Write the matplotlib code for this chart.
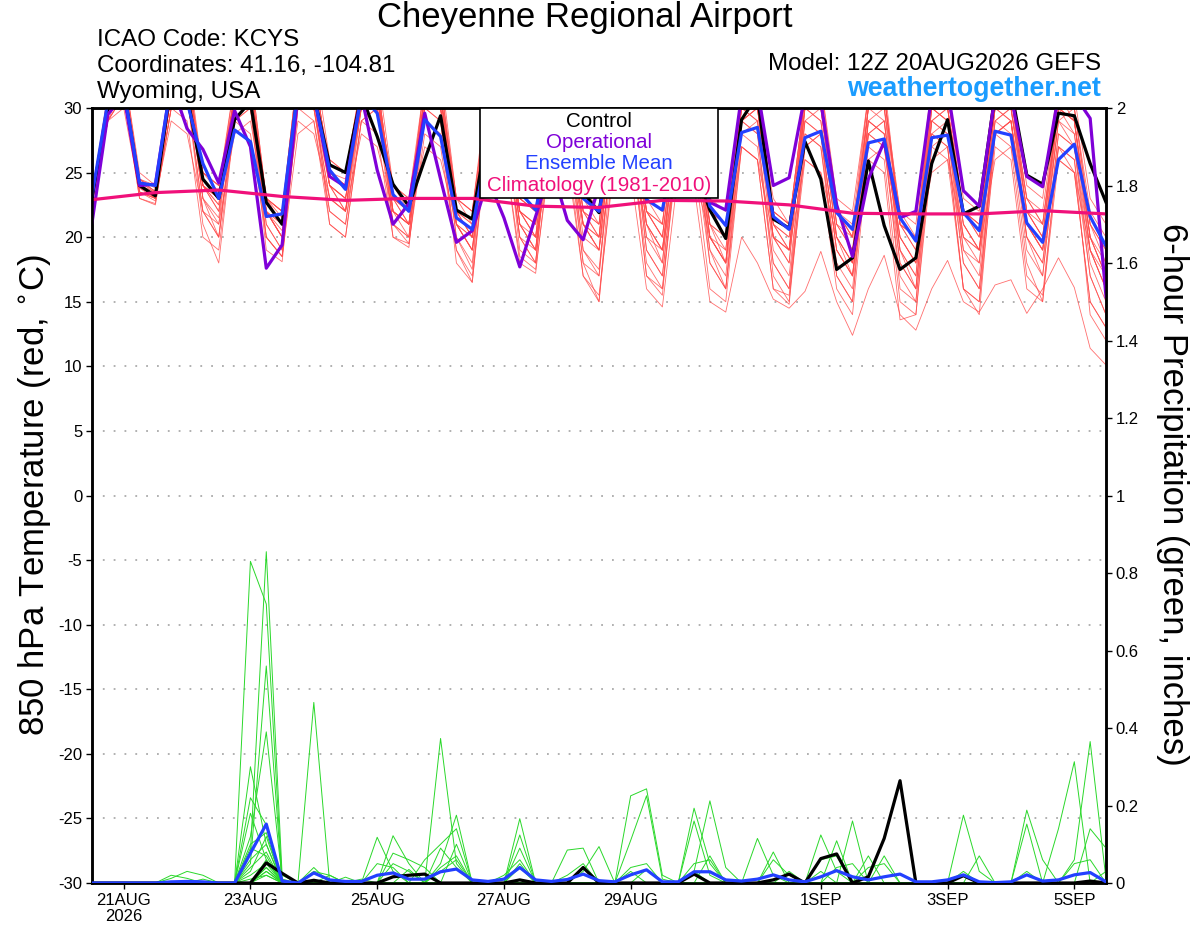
import numpy as np
import pandas as pd
import matplotlib
matplotlib.use('Agg')
import matplotlib.pyplot as plt
from matplotlib.patches import Rectangle

plt.rcParams['font.family'] = ['Liberation Sans', 'DejaVu Sans']

# ---------------- data ----------------
times = pd.date_range('2026-08-20 12:00', periods=65, freq='6h')
clim_times = pd.date_range('2026-08-20 12:00', periods=17, freq='24h')

control_t = [23.0, 30.0, 31.5, 24.0, 23.2, 32.0, 31.0, 24.5, 23.0, 29.1, 30.5, 22.7, 21.0, 31.5, 31.0, 25.6, 25.0,
             31.0, 27.8, 24.1, 22.4, 26.0, 29.4, 22.1, 21.4,
             28.5, 30.5, 24.0, 23.3, 29.5, 30.5, 23.5, 21.9, 30.0, 31.0, 23.5, 23.2, 31.0, 25.5,
             22.1, 19.9, 29.1, 31.0, 21.4, 20.7, 27.4, 24.5, 17.5, 18.4,
             25.9, 20.9, 17.5, 18.4, 25.7, 29.1, 21.8, 22.4, 31.0, 31.5, 24.8, 24.1, 29.6, 29.4, 25.7, 22.7]

oper_t = [21.1, 29.5, 31.0, 24.0, 24.1, 32.0, 28.4, 26.8, 24.2, 29.8, 27.0, 17.6, 19.4, 31.0, 31.0, 24.7, 23.9,
          31.0, 25.2, 21.0, 22.6, 29.6, 24.5, 19.6, 20.5,
          24.5, 21.5, 17.7, 21.6, 25.5, 21.3, 19.8, 24.0, 30.5, 31.0, 24.0, 23.5, 30.5, 29.0,
          22.7, 22.1, 31.0, 31.5, 24.0, 24.6, 31.0, 30.5, 22.5, 18.5,
          24.5, 27.4, 21.5, 22.0, 31.0, 31.5, 23.6, 22.4, 31.0, 31.0, 24.7, 23.9, 31.0, 31.0, 29.2, 15.4]

mean_t = [23.2, 30.5, 31.5, 24.2, 24.0, 32.0, 30.5, 25.7, 23.0, 28.3, 27.4, 21.6, 21.8, 31.5, 31.0, 25.2, 23.7,
          31.0, 29.6, 23.3, 22.0, 29.1, 27.8, 21.5, 20.6,
          27.5, 28.0, 23.5, 22.1, 28.0, 28.0, 23.0, 22.0, 28.0, 28.0, 22.9, 22.1, 28.5, 28.0,
          22.4, 20.9, 28.1, 28.5, 21.6, 20.6, 27.7, 28.2, 21.9, 20.6,
          27.3, 27.6, 21.5, 19.7, 27.7, 27.9, 21.9, 20.5, 28.2, 27.9, 21.1, 19.6, 26.0, 27.2, 21.6, 19.3]

clim_t = [22.9, 23.45, 23.65, 23.15, 22.85, 23.0, 23.0, 22.4, 22.3, 22.85, 22.8, 22.5, 21.85, 21.8, 21.8, 22.05, 21.8]

mem_t01 = [23.0, 30,33,24.5,23.5, 32,34,25,24, 31,33,23,22, 33,32,26,25, 32,31,24,23, 31,32,23,22, 31,30,23,22, 32,31,24,22, 31,32,23,21, 32,31,22,21, 31,30,23,21, 30,31,22,20, 31,30,21,20, 29,30,22,21, 30,31,23,22, 31,30,22,20]
mem_t02 = [22.8, 29,32,23.5,23, 31,33,23,21, 31,32,22,20, 32,31,24,23, 30,31,22,21, 30,31,21,19, 30,29,22,20, 31,30,21,19, 30,31,22,20, 30,29,21,18, 29,30,20,19, 31,30,21,19, 29,28,20,18, 30,29,21,19, 29,30,22,20, 30,28,20,17]
mem_t03 = [23.2, 30,31,24,23, 32,33,24,22, 30,31,21,19, 31,30,23,22, 32,31,23,21, 31,30,22,20, 29,30,21,19, 30,31,22,20, 31,30,21,19, 29,28,20,18, 30,29,21,20, 29,28,19,17, 28,29,19,16, 29,28,20,18, 28,29,21,19, 29,27,19,16]
mem_t04 = [22.5, 29,31,23,22.5, 30,31,22,20, 29,30,20,18.5, 30,29,22,21, 29,30,21,19.5, 29,28,19,16.5, 28,27,18.5,17.5, 27,26,17,15.5, 26,25,16,14.6, 25,24,15,14.2, 20,18,15.2,14.5, 15.8,18.9,15,12.4, 16,18.6,14,12.8, 16,18.2,15,14.2, 16.3,16.7,14.1,16, 18.4,16.1,11.4,10.1]
mem_t05 = [23.0, 30,32,24,23.5, 31,32,24,23, 30,32,22,21, 32,33,25,24, 31,32,23,22, 30,31,22,20, 30,31,22,21, 31,30,21,19, 30,29,20,19, 29,30,21,20, 28,27,18,16, 27,28,19,17, 26,25,13.6,14, 27,28,18,16, 28,29,20,18, 27,26,17,14]
mem_t06 = [23.4, 31,33,25,24, 32,33,25,24, 32,33,23,22, 33,34,26,25, 32,33,24,23, 32,33,23,22, 32,31,23,22, 32,33,23,22, 33,32,23,22, 32,33,22,21, 31,32,22,21, 31,30,22,21, 31,32,21,20, 30,31,22,21, 31,32,24,23, 32,31,23,21]
mem_t07 = [22.6, 29,31,23.5,22.8, 30,31,21,18, 29,30,19,18.1, 30,31,21,20, 29,30,20,19.2, 30,29,18,16.5, 29,30,19,18, 30,29,18,17, 30,29,19,17, 28,29,18,16, 29,28,17,15, 28,27,17,15, 29,28,16,15, 28,27,16,15, 29,28,18,15, 27,26,14,12]
mem_t08 = [23.0, 30,32,24,23, 31,32,24,22.5, 31,30,22,21, 31,32,24,23, 31,30,23,22, 31,30,21,20, 30,31,22,21, 30,29,21,20, 31,30,22,20, 30,31,21,19, 30,29,20,18, 30,31,21,19, 30,29,20,18, 29,30,21,19, 30,31,22,21, 30,29,20,17]
mem_t09 = [23.1, 30,33,24.5,23.5, 32,33,24,23, 31,32,23,22, 32,31,25,24, 30,31,22,20, 31,32,22,21, 31,30,22,20, 30,31,22,21, 31,32,22,21, 31,30,21,20, 30,31,21,19, 30,29,20,18, 30,31,21,19, 31,30,22,20, 30,29,20,18, 29,30,21,18]
mem_t10 = [22.7, 30,31,23.5,23, 30,31,22,20, 30,31,20,18.5, 31,30,22,21, 30,31,21,20, 31,30,20,18, 30,31,21,19, 30,29,19,17, 29,28,18,16, 28,29,19,17, 29,28,18,16, 29,28,19,17, 28,27,18,16, 28,29,19,17, 28,29,20,17, 28,27,18,15]
mem_t11 = [23.3, 31,32,24.5,23.8, 32,33,25,23.5, 32,31,23,21.5, 32,33,25,24.5, 32,31,23,22, 32,31,23,21, 31,32,23,22, 32,31,23,22, 32,31,22,21, 31,32,23,22, 31,30,22,21, 31,32,23,22, 31,30,22,21, 32,31,23,22, 32,31,23,21, 31,30,21,19]
mem_t12 = [22.9, 30,32,24,23.2, 31,33,24,23, 30,31,22,20, 31,32,24,23, 31,32,22,21, 31,30,21,19, 29,30,20,18, 31,30,20,19, 30,31,21,18, 30,29,20,18, 29,30,20,19, 29,30,20,18, 29,28,19,17, 30,29,20,19, 29,30,21,19, 30,29,19,16]
mem_t13 = [23.0, 30,31,23.8,23.3, 31,32,23,21.5, 31,32,22,20, 32,31,24,22, 31,30,22,21, 30,31,21,19, 30,29,20,19, 29,28,18,15, 29,28,17,15.5, 28,27,18,16, 27,26,16,14.8, 27,28,17,15, 28,27,17,15, 27,26,16,14, 28,27,17,15.5, 27,25,15,13]
mem_t14 = [23.2, 30,32,24.2,23.6, 32,31,24,23, 31,32,23,21, 32,33,25,24, 31,32,23,22, 31,32,22,21, 31,30,22,21, 31,32,22,21, 31,30,22,20, 30,31,22,21, 30,31,21,20, 30,31,22,20, 30,31,21,20, 31,30,22,20, 31,30,23,21, 30,29,21,19]
mem_t15 = [22.8, 30,31,23.8,23, 31,32,23,20, 30,31,21,19, 31,30,23,22, 30,31,21,20, 30,29,20,17.5, 30,29,20,18, 30,29,19,17.5, 29,30,19,17, 29,28,19,16, 28,29,19,17, 28,27,18,16, 28,29,18,16, 28,27,18,16, 28,29,19,17, 28,27,17,14]
mem_t16 = [23.1, 30,32,24.3,23.4, 31,33,24,22, 31,30,22,20, 32,31,24,22, 31,32,23,21, 31,30,22,20, 30,31,21,19, 31,30,21,20, 30,29,20,18, 30,29,20,19, 29,30,20,18, 30,29,20,17, 29,30,19,17, 29,28,19,18, 30,29,21,19, 29,28,19,16]
mem_t17 = [23.0, 29,30,23.5,23, 29,28,22,21, 28,29,22,20, 29,28,23,22, 28,27,22,21, 27,26,21,19, 27,28,22,20, 26,27,21,19, 27,26,21,19, 26,25,20,18, 27,26,20,19, 26,25,20,18, 26,27,20,18, 25,26,20,19, 26,27,21,19, 26,25,19,17]
mem_t18 = [23.0, 30,32,24,23.3, 32,31,24,22.5, 31,32,22,20.5, 31,30,24,23, 30,31,22,21, 30,31,21,20, 29,30,21,20, 30,31,22,20, 31,30,21,19, 30,31,20,18, 31,30,21,19, 31,32,22,20, 30,31,21,19, 30,29,21,19, 31,30,22,20, 30,29,20,17]
mem_t19 = [23.3, 31,32,24.5,24, 32,33,25,24, 31,32,23,22, 33,32,25,24, 32,31,24,22, 32,31,23,22, 31,32,23,22, 31,30,23,21, 32,31,23,22, 31,30,22,21, 30,31,22,21, 31,30,21,20, 30,31,22,20, 31,30,22,21, 30,31,22,20, 31,29,20,18]
mem_t20 = [22.6, 29,31,23,22.6, 30,29,20,19, 29,28,20,18.5, 28,29,21,20, 29,28,20,19.5, 28,27,19,17, 28,27,18,17.2, 28,27,17,15, 27,28,17,16, 27,26,16,15, 27,26,16,15.5, 26,25,16,14, 27,26,15,14, 26,27,16,15, 27,26,16,15, 26,25,15,13]

temp_members = [mem_t01, mem_t02, mem_t03, mem_t04, mem_t05, mem_t06, mem_t07, mem_t08, mem_t09, mem_t10,
                mem_t11, mem_t12, mem_t13, mem_t14, mem_t15, mem_t16, mem_t17, mem_t18, mem_t19, mem_t20]

control_p = [0,0,0,0,0,0,0,0,0,0, 0,0.052,0.025,0,0.007,0,0,0,0,0.016, 0.02,0.023,0,0,0,0,0,0.008,0,0,
             0,0.04,0,0,0,0,0,0,0.023,0, 0,0,0,0.008,0.023,0,0.063,0.075,0,0.016, 0.115,0.264,0,0,0,0.019,0,0,0,0,
             0,0,0,0.005,0]
mean_p = [0,0,0,0,0,0.003,0.004,0.003,0,0, 0.077,0.152,0.005,0,0.026,0.008,0.004,0.004,0.02,0.026,
          0.01,0.01,0.029,0.036,0.008,0.004,0.01,0.04,0.008,0.004, 0.009,0.023,0.006,0.003,0.021,0.034,0.003,0.003,0.029,0.029,
          0.008,0.005,0.01,0.021,0.008,0.003,0.016,0.032,0.016,0.008, 0.016,0.023,0.003,0.003,0.008,0.021,0.003,0.001,0.003,0.021,
          0.005,0.008,0.021,0.027,0.003]

# each precipitation member: list of 65 six-hour totals (inches)
mem_p01 = [0,0,0,0,0,0,0,0,0,0, 0.83,0.72,0,0,0,0,0,0,0.05,0.04, 0,0,0,0,0,0,0,0.166,0,0, 0,0,0,0,0.04,0.05,0,0,0.193,0.05, 0,0,0,0,0,0,0,0,0,0, 0,0,0,0,0,0,0,0,0,0, 0,0,0,0,0]
mem_p02 = [0,0,0,0,0,0,0,0,0,0, 0.08,0.855,0.02,0,0.04,0,0,0,0,0, 0,0,0.04,0.07,0,0,0,0,0,0, 0,0,0,0,0,0.035,0,0,0,0, 0,0,0,0,0,0,0.03,0,0,0, 0,0,0,0,0,0,0,0,0,0, 0,0,0,0,0]
mem_p03 = [0,0,0,0,0,0,0,0.01,0,0, 0.05,0.56,0,0,0,0,0,0,0,0.05, 0.03,0,0,0,0,0,0,0,0,0, 0.02,0.05,0,0,0,0,0,0,0.03,0.212, 0.04,0,0,0,0,0,0,0,0,0, 0,0,0,0,0,0,0,0,0,0.03, 0,0,0,0,0]
mem_p04 = [0,0,0,0,0,0,0,0,0,0, 0.12,0.39,0.01,0,0,0,0,0,0,0, 0,0,0,0,0,0,0,0.124,0,0, 0,0,0,0,0,0,0,0,0,0, 0,0,0,0,0,0,0,0,0,0, 0,0,0,0,0,0.03,0,0,0,0, 0,0,0,0,0]
mem_p05 = [0,0,0,0,0,0,0,0,0,0, 0.30,0.10,0,0,0,0,0,0,0,0, 0,0,0,0,0,0,0,0.09,0,0, 0,0,0,0,0,0,0,0,0.16,0.02, 0,0,0.115,0.02,0,0,0,0,0,0, 0,0,0,0,0,0,0,0,0,0, 0,0,0,0,0]
mem_p06 = [0,0,0,0,0,0,0,0,0,0, 0.22,0.15,0,0,0.03,0.02,0,0,0,0, 0,0,0,0,0,0,0.02,0.06,0,0, 0,0,0,0,0,0,0,0,0,0.07, 0,0,0,0.08,0,0,0,0,0,0, 0,0,0,0,0,0,0,0,0,0, 0,0,0,0,0.03]
mem_p07 = [0,0,0,0,0,0,0,0,0,0, 0.18,0.06,0,0,0.466,0,0,0,0,0, 0,0,0,0,0,0,0,0,0,0, 0,0,0,0,0.03,0,0,0,0,0, 0,0,0,0.06,0.02,0,0.124,0.03,0,0, 0,0,0,0,0,0,0,0,0,0, 0,0,0,0,0]
mem_p08 = [0,0,0,0,0,0.012,0.03,0.02,0,0, 0,0.03,0,0,0,0,0,0,0,0, 0,0,0,0,0,0,0,0.05,0,0, 0,0,0,0,0,0,0,0,0.05,0.06, 0,0,0,0,0,0,0,0.109,0,0, 0,0,0,0,0,0,0,0,0,0, 0,0,0,0,0]
mem_p09 = [0,0,0,0,0,0.02,0.012,0,0,0, 0,0.02,0,0,0,0.02,0,0,0,0, 0,0,0,0,0,0,0,0.04,0,0, 0,0,0,0,0,0,0,0,0,0, 0,0,0,0,0.03,0,0,0,0.16,0, 0,0,0,0,0,0,0,0,0,0, 0,0,0,0,0]
mem_p10 = [0,0,0,0,0,0,0,0,0,0, 0.10,0.13,0,0,0,0,0,0,0.118,0.03, 0,0,0,0,0,0,0,0,0,0, 0.085,0.09,0,0,0,0,0,0,0,0, 0,0,0,0,0,0,0.06,0.07,0,0, 0,0,0,0,0,0,0,0,0,0, 0,0,0,0,0]
mem_p11 = [0,0,0,0,0,0,0,0,0,0, 0.04,0.08,0,0,0,0,0,0,0,0.122, 0.05,0,0,0,0,0,0,0,0,0, 0,0.03,0.094,0,0,0,0,0,0,0, 0,0,0,0,0,0,0,0.04,0.05,0, 0,0,0,0,0,0.175,0.03,0,0,0, 0,0,0,0,0]
mem_p12 = [0,0,0,0,0,0,0,0,0,0, 0.06,0.10,0,0,0,0,0,0,0,0.077, 0.06,0.04,0,0,0,0,0,0,0,0, 0,0.04,0,0,0,0,0,0,0.03,0, 0,0,0,0,0,0,0,0,0,0.07, 0,0,0,0,0,0,0.07,0,0,0, 0,0,0,0,0]
mem_p13 = [0,0,0,0,0,0,0,0,0,0, 0.02,0.05,0,0,0,0,0.015,0,0,0, 0,0,0.373,0.05,0,0,0,0,0,0, 0,0,0,0,0,0,0,0,0,0, 0,0,0,0,0,0,0,0,0,0, 0.07,0,0,0,0,0,0,0,0,0.188, 0.06,0,0,0,0]
mem_p14 = [0,0,0,0,0,0,0,0,0,0, 0.03,0.12,0,0,0,0,0,0,0,0, 0.035,0,0.05,0.175,0,0,0,0,0,0, 0,0,0,0,0,0,0,0,0,0, 0,0,0,0,0,0,0,0,0,0.04, 0.05,0,0,0,0,0,0,0,0,0.152, 0,0,0,0,0]
mem_p15 = [0,0,0,0,0,0,0,0,0,0, 0,0.04,0,0,0,0,0,0.01,0,0, 0,0,0.09,0.04,0,0,0,0,0,0, 0,0,0,0,0,0,0,0,0,0, 0,0,0,0,0,0,0,0,0,0, 0,0,0,0,0,0,0,0,0,0, 0,0.14,0.313,0,0]
mem_p16 = [0,0,0,0,0,0,0,0,0,0, 0.09,0.07,0,0,0,0,0,0,0,0, 0,0.06,0.10,0.14,0,0,0,0,0,0, 0,0,0,0,0,0,0,0,0,0, 0,0,0,0,0,0,0,0,0,0, 0,0,0,0,0,0,0,0,0,0, 0,0,0.06,0.365,0.01]
mem_p17 = [0,0,0,0,0,0,0,0,0,0, 0.01,0.02,0,0,0,0,0,0,0,0, 0,0,0,0.10,0,0,0,0,0,0, 0,0,0,0,0,0,0,0,0,0, 0,0,0,0,0,0,0,0,0,0, 0,0,0,0,0,0,0,0,0,0, 0,0,0,0.14,0.09]
mem_p18 = [0,0,0,0,0,0,0,0,0,0, 0,0.03,0,0,0,0,0,0,0,0, 0,0,0.03,0.06,0,0,0,0,0,0, 0,0,0,0,0,0,0,0,0,0, 0,0,0,0,0,0,0,0,0,0, 0,0,0,0,0,0,0,0,0,0, 0,0,0.05,0.06,0]
mem_p19 = [0,0,0,0,0,0,0,0,0,0, 0,0.04,0,0,0,0,0,0,0,0, 0,0,0,0,0,0,0,0,0,0, 0,0,0,0,0.225,0.243,0.02,0,0,0, 0,0,0,0,0,0,0,0,0,0, 0,0,0,0,0,0,0,0,0,0, 0,0,0,0,0]
mem_p20 = [0,0,0,0,0,0,0,0,0,0, 0,0.06,0,0,0,0,0,0,0,0, 0,0,0,0,0,0,0,0,0,0, 0,0,0,0,0.11,0.225,0.01,0,0,0, 0,0,0,0,0,0,0,0,0,0, 0,0,0,0,0,0,0,0,0,0, 0,0,0,0,0]

precip_members = [mem_p01, mem_p02, mem_p03, mem_p04, mem_p05, mem_p06, mem_p07, mem_p08, mem_p09, mem_p10,
                  mem_p11, mem_p12, mem_p13, mem_p14, mem_p15, mem_p16, mem_p17, mem_p18, mem_p19, mem_p20]

tick_dates = pd.to_datetime(['2026-08-21', '2026-08-23', '2026-08-25', '2026-08-27', '2026-08-29',
                             '2026-09-01', '2026-09-03', '2026-09-05'])
tick_labels = ['21AUG\n2026', '23AUG', '25AUG', '27AUG', '29AUG', '1SEP', '3SEP', '5SEP']
temp_ticks = list(range(-30, 31, 5))
precip_ticks = [0, 0.2, 0.4, 0.6, 0.8, 1.0, 1.2, 1.4, 1.6, 1.8, 2.0]
precip_tick_labels = ['0', '0.2', '0.4', '0.6', '0.8', '1', '1.2', '1.4', '1.6', '1.8', '2']

# ---------------- styles ----------------
RED = '#ff4a4a'
GREEN = '#2ad82a'
PURPLE = '#7f00d8'
BLUE = '#2340ff'
PINK = '#f0107a'
WEB = '#1a9cff'

W, H = 1200, 927
fig = plt.figure(figsize=(W / 100, H / 100), dpi=100)
L, R, T, B = 92, 1106, 108, 883
ax = fig.add_axes([L / W, 1 - B / H, (R - L) / W, (B - T) / H])
ax2 = ax.twinx()

for v in range(-25, 30, 5):
    ax.axhline(v, color='#aaaaaa', lw=1.3, ls=(0, (1, 5)), zorder=1)

for m in temp_members:
    ax.plot(times, m, color=RED, lw=0.6, alpha=0.8, zorder=2)
ax.plot(times, control_t, color='black', lw=2.3, zorder=4)
ax.plot(times, oper_t, color=PURPLE, lw=2.3, zorder=5)
ax.plot(times, mean_t, color=BLUE, lw=2.3, zorder=6)
ax.plot(clim_times, clim_t, color=PINK, lw=2.3, zorder=7)

for m in precip_members:
    ax2.plot(times, m, color=GREEN, lw=0.7, zorder=2)
ax2.plot(times, control_p, color='black', lw=2.3, zorder=4)
ax2.plot(times, mean_p, color=BLUE, lw=2.3, zorder=5)

ax.set_xlim(times[0], times[-1])
ax.set_ylim(-30, 30)
ax2.set_ylim(0, 2)
ax.set_yticks(temp_ticks)
ax.set_yticklabels([str(t) for t in temp_ticks], fontsize=12)
ax2.set_yticks(precip_ticks)
ax2.set_yticklabels(precip_tick_labels, fontsize=12)
ax.set_xticks(tick_dates)
ax.set_xticklabels(tick_labels, fontsize=12, linespacing=1.1)
ax.tick_params(axis='both', direction='out', length=4, width=1, pad=3)
ax2.tick_params(axis='y', direction='out', length=4, width=1, pad=3)

for a in (ax, ax2):
    for s in a.spines.values():
        s.set_linewidth(1.8)

# legend box
lx0 = (480 - L) / (R - L)
lx1 = (718 - L) / (R - L)
ly0 = 1 - (198 - T) / (B - T)
ax2.add_patch(Rectangle((lx0, ly0), lx1 - lx0, 1 - ly0, transform=ax2.transAxes,
                        facecolor='white', edgecolor='black', lw=1.2, zorder=20, clip_on=False))
leg_items = [('Control', 'black', 121), ('Operational', PURPLE, 142),
             ('Ensemble Mean', BLUE, 163), ('Climatology (1981-2010)', PINK, 185)]
for txt, col, yy in leg_items:
    ax2.text((lx0 + lx1) / 2, 1 - (yy - T) / (B - T), txt, color=col, fontsize=14.8,
             ha='center', va='center', transform=ax2.transAxes, zorder=21)

# header texts
fig.text(585 / W, 1 - 18 / H, 'Cheyenne Regional Airport', fontsize=25, ha='center', va='center')
fig.text(97 / W, 1 - 40 / H, 'ICAO Code: KCYS', fontsize=17.4, ha='left', va='center')
fig.text(97 / W, 1 - 66 / H, 'Coordinates: 41.16, -104.81', fontsize=17.4, ha='left', va='center')
fig.text(97 / W, 1 - 92 / H, 'Wyoming, USA', fontsize=17.4, ha='left', va='center')
fig.text(1101 / W, 1 - 64 / H, 'Model: 12Z 20AUG2026 GEFS', fontsize=17.4, ha='right', va='center')
fig.text(1101 / W, 1 - 89 / H, 'weathertogether.net', fontsize=19.3, fontweight='bold',
         color=WEB, ha='right', va='center')

fig.text(35 / W, 1 - 495 / H, '850 hPa Temperature (red, $^{\\circ}$C)', fontsize=25,
         rotation=90, ha='center', va='center')
fig.text(1172 / W, 1 - 494 / H, '6-hour Precipitation (green, inches)', fontsize=25,
         rotation=270, ha='center', va='center')

fig.savefig('out.png', dpi=100)
